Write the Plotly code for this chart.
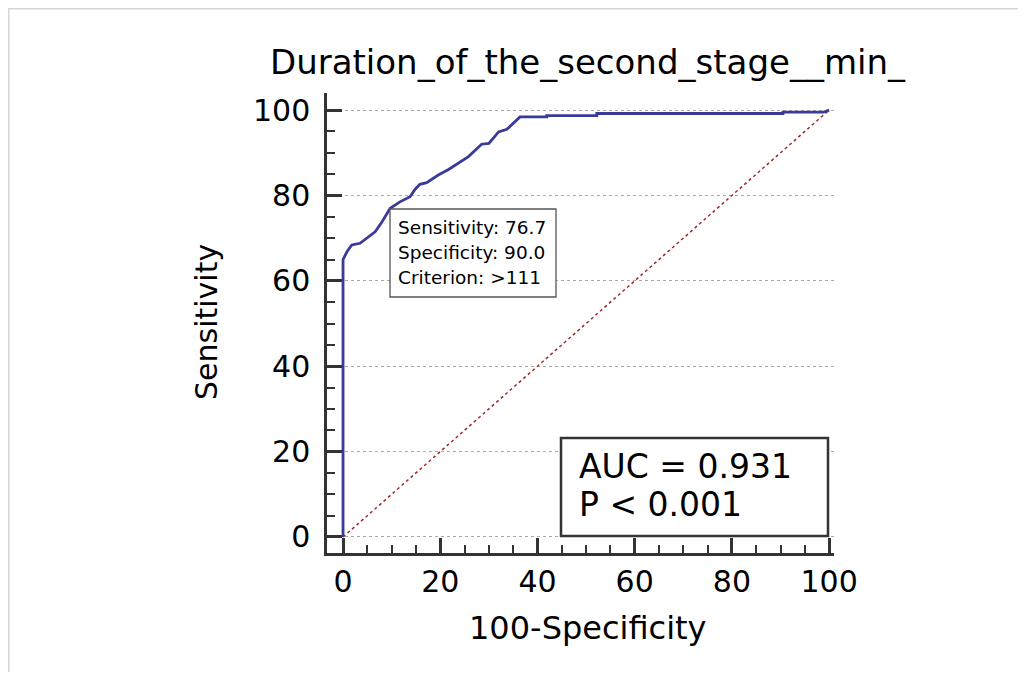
import plotly.graph_objects as go

# ROC curve
fpr = [0, 0, 0.8, 1.8, 3.5, 5.2, 6.6, 8.0, 9.7, 11.7, 13.8, 14.8, 15.8, 17.2, 19.6, 21.7,
       23.7, 25.8, 28.5, 30.0, 32.0, 33.7, 36.4, 41.9, 41.9, 52.2, 52.2, 90.5, 90.5, 98.8, 100]
tpr = [0, 65.0, 66.8, 68.4, 68.8, 70.3, 71.5, 73.8, 77.0, 78.5, 79.7, 81.4, 82.6, 83.0, 84.8, 86.1,
       87.5, 89.1, 92.0, 92.2, 94.9, 95.5, 98.4, 98.4, 98.7, 98.7, 99.2, 99.2, 99.5, 99.5, 100]
diag_x = [0, 100]
diag_y = [0, 100]
tick_vals = [0, 20, 40, 60, 80, 100]

title_text = "Duration_of_the_second_stage__min_"
cut_lines = ["Sensitivity: 76.7", "Specificity: 90.0", "Criterion: &gt;111"]
auc_lines = ["AUC = 0.931", "P &lt; 0.001"]

FONT = "DejaVu Sans, Arial, sans-serif"

OFF = 8  # page offset of the figure
FW, FH = 1010, 664
# plot area in page pixels
L, R, T, B = 327, 834, 93, 553
W, H = R - L, B - T
def px(x):
    return (x - L) / W
def py(y):
    return (B - y) / H

fig = go.Figure()
fig.add_trace(go.Scatter(x=diag_x, y=diag_y, mode="lines",
                         line=dict(color="#a02828", width=1.5, dash="dot"),
                         hoverinfo="skip", showlegend=False))
fig.add_trace(go.Scatter(x=fpr, y=tpr, mode="lines",
                         line=dict(color="#3a3a98", width=2.8),
                         showlegend=False))

axis_common = dict(
    showline=True, linecolor="#333333", linewidth=2.5,
    ticks="inside", ticklen=15, tickwidth=2.5, tickcolor="#333333",
    tickvals=tick_vals, zeroline=False,
    tickfont=dict(family=FONT, size=30, color="black"),
    minor=dict(dtick=5, tick0=0, ticks="inside", ticklen=8, tickwidth=1.5,
               tickcolor="#333333", showgrid=False),
)

fig.update_xaxes(range=[-3.3, 101], showgrid=False, ticklabelstandoff=0, **axis_common)
fig.update_yaxes(range=[-3.75, 104], showgrid=True, gridcolor="#a8a8a8",
                 griddash="dot", gridwidth=1, ticklabelstandoff=8, **axis_common)

ann_font = dict(family=FONT, color="black")
fig.add_annotation(text=title_text, xref="paper", yref="paper", x=px(588), y=py(62),
                   xanchor="center", yanchor="middle",
                   showarrow=False, font=dict(size=34, **ann_font))
fig.add_annotation(text="Sensitivity", xref="paper", yref="paper", x=px(206), y=py(322),
                   xanchor="center", yanchor="middle",
                   showarrow=False, textangle=-90, font=dict(size=30, **ann_font))
fig.add_annotation(text="100-Specificity", xref="paper", yref="paper", x=px(588), y=py(628),
                   xanchor="center", yanchor="middle",
                   showarrow=False, font=dict(size=32, **ann_font))

# criterion box
fig.add_shape(type="rect", xref="paper", yref="paper",
              x0=px(390), x1=px(556), y0=py(297), y1=py(209),
              line=dict(color="#555555", width=1.3), fillcolor="white", layer="above")
for i, t in enumerate(cut_lines):
    fig.add_annotation(text=t, xref="paper", yref="paper",
                       x=px(396), y=py(227 + 25 * i), xanchor="left", yanchor="middle",
                       showarrow=False, align="left", font=dict(size=18.5, **ann_font))

# AUC box
fig.add_shape(type="rect", xref="paper", yref="paper",
              x0=px(561), x1=px(828), y0=py(536), y1=py(438),
              line=dict(color="#333333", width=2.5), fillcolor="white", layer="above")
for i, t in enumerate(auc_lines):
    fig.add_annotation(text=t, xref="paper", yref="paper",
                       x=px(577), y=py(466 + 38 * i), xanchor="left", yanchor="middle",
                       showarrow=False, align="left", font=dict(size=33, **ann_font))

# outer light frame
fig.add_shape(type="rect", xref="paper", yref="paper",
              x0=px(OFF + 0.5), x1=px(1100), y0=py(750), y1=py(OFF + 0.5),
              line=dict(color="#d6d6d6", width=2), layer="below")

fig.update_layout(
    width=FW, height=FH,
    margin=dict(l=L - OFF, r=FW - (R - OFF), t=T - OFF, b=FH - (B - OFF), autoexpand=False),
    paper_bgcolor="white", plot_bgcolor="white",
    font=dict(family=FONT),
)

fig.write_html("out.html")
